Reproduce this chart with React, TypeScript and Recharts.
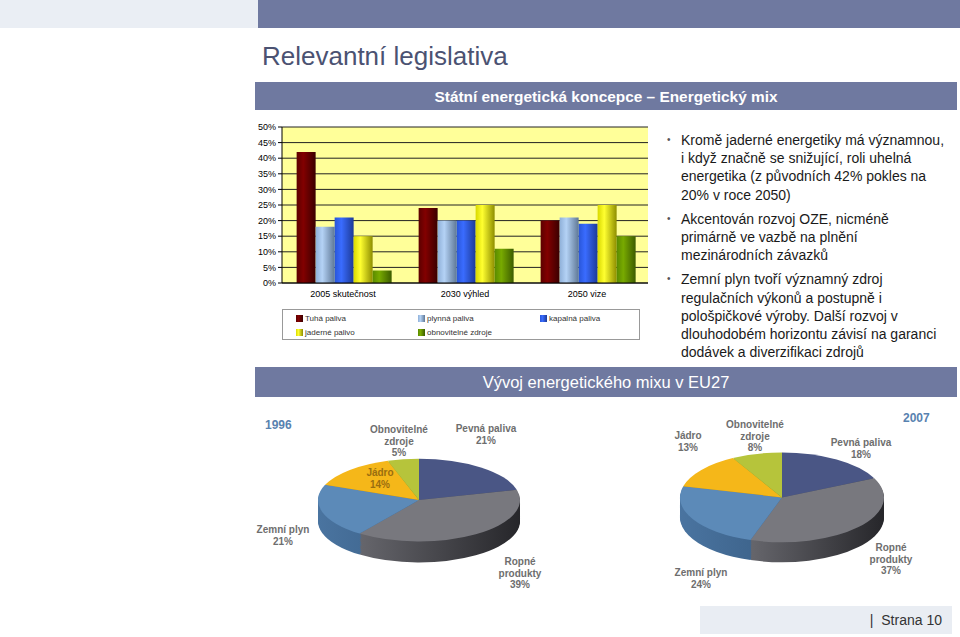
import React from "react";
import {
  BarChart,
  Bar,
  XAxis,
  YAxis,
  CartesianGrid,
  Legend,
  PieChart,
  Pie,
  Cell,
} from "recharts";

// ---- data ----
const years = ["2005 skutečnost", "2030 výhled", "2050 vize"];
const tuhaPaliva = [42, 24, 20];
const plynnaPaliva = [18, 20, 21];
const kapalnaPaliva = [21, 20, 19];
const jadernePalivo = [15, 25, 25];
const obnovitelneZdroje = [4, 11, 15];
const yTicks = [0, 5, 10, 15, 20, 25, 30, 35, 40, 45, 50];

const seriesNames = [
  "Tuhá paliva",
  "plynná paliva",
  "kapalná paliva",
  "jaderné palivo",
  "obnovitelné zdroje",
];

const pieNames = ["Pevná paliva", "Ropné produkty", "Zemní plyn", "Jádro", "Obnovitelné zdroje"];
const mix1996 = [21, 39, 21, 14, 5];
const mix2007 = [18, 37, 24, 13, 8];

const bullets = [
  [
    "Kromě jaderné energetiky má významnou,",
    "i když značně se snižující, roli uhelná",
    "energetika (z původních 42% pokles na",
    "20% v roce 2050)",
  ],
  ["Akcentován rozvoj OZE, nicméně", "primárně ve vazbě na plnění", "mezinárodních závazků"],
  [
    "Zemní plyn tvoří významný zdroj",
    "regulačních výkonů a postupně i",
    "pološpičkové výroby. Další rozvoj v",
    "dlouhodobém horizontu závisí na garanci",
    "dodávek a diverzifikaci zdrojů",
  ],
];

// ---- styles ----
const FONT = '"Liberation Sans", Arial, sans-serif';
const BANNER = "#6f79a0";

const seriesKeys = ["tuha", "plynna", "kapalna", "jaderne", "obnov"];
const barStops: string[][] = [
  ["#5c0000", "#820000", "#3a0000"],
  ["#8fb0d8", "#b4d2f5", "#5f7896"],
  ["#2855d8", "#3a6cff", "#1c3a98"],
  ["#d8d800", "#ffff30", "#8e8e00"],
  ["#5a8a00", "#78aa00", "#3c5c00"],
];

const pieTop = ["#4a5685", "#78787e", "#5c8ab8", "#f5b719", "#b6c43b"];
const pieSide: string[][] = [
  ["#3a4468", "#2c3452"],
  ["#66666c", "#26262a"],
  ["#4a74a0", "#3a5f86"],
  ["#c8920e", "#a87a0a"],
  ["#94a02c", "#7a8422"],
];

const labelPos1996 = [
  { x: 486, y: 423, split: false, color: "#6e6e6e" },
  { x: 520, y: 556, split: true, color: "#6e6e6e" },
  { x: 283, y: 524, split: false, color: "#6e6e6e" },
  { x: 380, y: 467, split: false, color: "#9a6e10" },
  { x: 399, y: 424, split: true, color: "#6e6e6e" },
];
const labelPos2007 = [
  { x: 861, y: 437, split: false, color: "#6e6e6e" },
  { x: 891, y: 542, split: true, color: "#6e6e6e" },
  { x: 701, y: 567, split: false, color: "#6e6e6e" },
  { x: 688, y: 430, split: false, color: "#6e6e6e" },
  { x: 755, y: 419, split: true, color: "#6e6e6e" },
];

const barData = years.map((y, i) => ({
  year: y,
  tuha: tuhaPaliva[i],
  plynna: plynnaPaliva[i],
  kapalna: kapalnaPaliva[i],
  jaderne: jadernePalivo[i],
  obnov: obnovitelneZdroje[i],
}));

const renderLegend = () => (
  <div
    style={{
      border: "1px solid #999",
      height: 31,
      boxSizing: "border-box",
      display: "grid",
      gridTemplateColumns: "122px 122px 100px",
      padding: "1px 0 0 13px",
      fontFamily: FONT,
      fontSize: 8,
      lineHeight: "13px",
      color: "#333",
      background: "#fff",
    }}
  >
    {seriesNames.map((n, i) => (
      <div key={n} style={{ display: "flex", alignItems: "center", whiteSpace: "nowrap" }}>
        <span
          style={{
            width: 7,
            height: 7,
            marginRight: 2,
            background: `linear-gradient(90deg, ${barStops[i][0]}, ${barStops[i][1]} 35%, ${barStops[i][2]})`,
          }}
        />
        {n}
      </div>
    ))}
  </div>
);

function Pie3D({
  values,
  left,
  top,
  k,
  depth,
  r,
  idp,
}: {
  values: number[];
  left: number;
  top: number;
  k: number;
  depth: number;
  r: number;
  idp: string;
}) {
  const data = pieNames.map((n, i) => ({ name: n, value: values[i] }));
  const CX = 110;
  const CY = 110;
  const steps = 18;
  const d = depth / k;
  const layers: number[] = [];
  for (let s = steps; s >= 1; s--) layers.push(CY + (d * s) / steps);
  return (
    <div
      style={{
        position: "absolute",
        left,
        top,
        transform: `scaleY(${k})`,
        transformOrigin: "0 0",
      }}
    >
      <PieChart width={220} height={CY + r + d + 6} margin={{ top: 0, right: 0, bottom: 0, left: 0 }}>
        <defs>
          {pieSide.map((c, i) => (
            <linearGradient key={i} id={`${idp}-side-${i}`} x1="0" y1="0" x2="1" y2="0">
              <stop offset="0%" stopColor={c[0]} />
              <stop offset="100%" stopColor={c[1]} />
            </linearGradient>
          ))}
        </defs>
        {layers.map((cy, li) => (
          <Pie
            key={`l${li}`}
            data={data}
            dataKey="value"
            cx={CX}
            cy={cy}
            outerRadius={r}
            startAngle={90}
            endAngle={-270}
            stroke="none"
            isAnimationActive={false}
          >
            {data.map((_, i) => (
              <Cell key={i} fill={`url(#${idp}-side-${i})`} />
            ))}
          </Pie>
        ))}
        <Pie
          data={data}
          dataKey="value"
          cx={CX}
          cy={CY}
          outerRadius={r}
          startAngle={90}
          endAngle={-270}
          stroke="none"
          isAnimationActive={false}
        >
          {data.map((_, i) => (
            <Cell key={i} fill={pieTop[i]} />
          ))}
        </Pie>
      </PieChart>
    </div>
  );
}

function PieLabels({ values, pos }: { values: number[]; pos: typeof labelPos1996 }) {
  return (
    <>
      {pieNames.map((n, i) => {
        const p = pos[i];
        const lines = p.split ? n.split(" ") : [n];
        return (
          <div
            key={n}
            style={{
              position: "absolute",
              left: p.x - 60,
              top: p.y,
              width: 120,
              textAlign: "center",
              fontFamily: FONT,
              fontWeight: "bold",
              fontSize: 10,
              lineHeight: "11.5px",
              color: p.color,
            }}
          >
            {lines.map((l) => (
              <div key={l}>{l}</div>
            ))}
            <div>{values[i]}%</div>
          </div>
        );
      })}
    </>
  );
}

export default function App() {
  return (
    <div
      style={{
        position: "absolute",
        left: 0,
        top: 0,
        width: 960,
        height: 637,
        background: "#fff",
        overflow: "hidden",
        fontFamily: FONT,
      }}
    >
      {/* header strips */}
      <div style={{ position: "absolute", left: 0, top: 0, width: 258, height: 28, background: "#eaeef4" }} />
      <div style={{ position: "absolute", left: 258, top: 0, width: 702, height: 28, background: BANNER }} />

      <div
        style={{
          position: "absolute",
          left: 262,
          top: 41,
          fontSize: 26,
          color: "#4b5272",
          whiteSpace: "nowrap",
        }}
      >
        Relevantní legislativa
      </div>

      <div
        style={{
          position: "absolute",
          left: 255,
          top: 82,
          width: 702,
          height: 28,
          background: BANNER,
          color: "#fff",
          fontWeight: "bold",
          fontSize: 15.4,
          lineHeight: "30px",
          textAlign: "center",
        }}
      >
        Státní energetická koncepce – Energetický mix
      </div>

      {/* bar chart */}
      <div style={{ position: "absolute", left: 250, top: 117 }}>
        <BarChart
          width={400}
          height={223}
          data={barData}
          margin={{ top: 10, right: 2, bottom: 0, left: 0 }}
          barCategoryGap="12%"
          barGap={0}
        >
          <defs>
            {seriesKeys.map((k, i) => (
              <linearGradient key={k} id={`g-${k}`} x1="0" y1="0" x2="1" y2="0">
                <stop offset="0%" stopColor={barStops[i][0]} />
                <stop offset="35%" stopColor={barStops[i][1]} />
                <stop offset="100%" stopColor={barStops[i][2]} />
              </linearGradient>
            ))}
          </defs>
          <CartesianGrid vertical={false} stroke="#222" fill="#ffff99" fillOpacity={1} />
          <XAxis
            dataKey="year"
            height={26}
            tickLine={false}
            axisLine={{ stroke: "#000" }}
            tick={{ fontSize: 9, fill: "#000", fontFamily: FONT }}
            interval={0}
          />
          <YAxis
            width={32}
            domain={[0, 50]}
            ticks={yTicks}
            interval={0}
            tickFormatter={(v) => `${v}%`}
            tick={{ fontSize: 9, fill: "#000", fontFamily: FONT }}
            tickSize={4}
            axisLine={{ stroke: "#000" }}
            tickLine={{ stroke: "#000" }}
          />
          <Legend
            verticalAlign="bottom"
            content={renderLegend}
            width={358}
            wrapperStyle={{ left: 32, width: 358, height: 31 }}
          />
          {seriesKeys.map((k, i) => (
            <Bar
              key={k}
              dataKey={k}
              name={seriesNames[i]}
              fill={`url(#g-${k})`}
              isAnimationActive={false}
            />
          ))}
        </BarChart>
      </div>

      {/* bullet text */}
      <div style={{ position: "absolute", left: 662, top: 131, width: 298 }}>
        {bullets.map((lines, bi) => (
          <div
            key={bi}
            style={{
              position: "relative",
              paddingLeft: 19,
              marginTop: bi === 0 ? 0 : 6,
              fontSize: 14,
              lineHeight: "18.2px",
              color: "#1a1a1a",
              whiteSpace: "nowrap",
            }}
          >
            <span style={{ position: "absolute", left: 5, top: 0, fontSize: 10, color: "#555" }}>•</span>
            {lines.map((l) => (
              <div key={l}>{l}</div>
            ))}
          </div>
        ))}
      </div>

      {/* second banner */}
      <div
        style={{
          position: "absolute",
          left: 255,
          top: 367,
          width: 702,
          height: 30,
          background: BANNER,
          color: "#fff",
          fontSize: 16.5,
          lineHeight: "31px",
          textAlign: "center",
        }}
      >
        Vývoj energetického mixu v EU27
      </div>

      {/* pies */}
      <div style={{ position: "absolute", left: 265, top: 418, fontSize: 12, fontWeight: "bold", color: "#5882b0" }}>
        1996
      </div>
      <div style={{ position: "absolute", left: 903, top: 411, fontSize: 12, fontWeight: "bold", color: "#5882b0" }}>
        2007
      </div>

      <Pie3D values={mix1996} left={309} top={500 - 110 * 0.41} k={0.41} depth={21} r={101} idp="p96" />
      <Pie3D values={mix2007} left={672} top={497 - 110 * 0.44} k={0.44} depth={20} r={102} idp="p07" />
      <PieLabels values={mix1996} pos={labelPos1996} />
      <PieLabels values={mix2007} pos={labelPos2007} />

      {/* footer */}
      <div
        style={{
          position: "absolute",
          left: 700,
          top: 606,
          width: 252,
          height: 28,
          background: "#e9edf3",
          fontSize: 14,
          color: "#333",
          lineHeight: "28px",
          textAlign: "right",
          paddingRight: 10,
          boxSizing: "border-box",
          whiteSpace: "pre",
        }}
      >
        {"|  Strana 10"}
      </div>
    </div>
  );
}
